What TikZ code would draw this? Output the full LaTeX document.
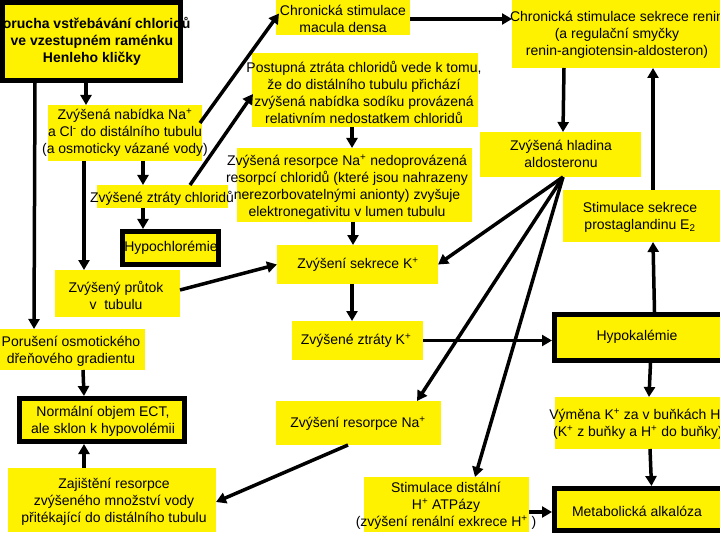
\documentclass[tikz,border=0pt]{standalone}
\usepackage{fontspec}
\setmainfont{Liberation Sans}
\usetikzlibrary{arrows.meta,calc}
\tikzset{
 ybox/.style={fill=yellow, inner sep=0pt, outer sep=0pt},
 kbox/.style={fill=yellow, draw=black, line width=5pt, inner sep=0pt, outer sep=2.5pt},
 txt/.style={align=center, inner sep=0pt, font=\fontsize{14}{17}\selectfont},
 arr/.style={line width=3.5pt, -{Triangle[length=10pt,width=11pt]}},
}
\newcommand{\ybx}[5]{\node[ybox, minimum width={#4-#2}, minimum height={#5-#3}, anchor=north west] (#1) at (#2,#3) {};}
\newcommand{\kbx}[5]{\node[kbox, minimum width={#4-#2-5}, minimum height={#5-#3-5}, anchor=north west] (#1) at (#2,#3) {};}
\newcommand{\sps}{\textsuperscript{+}}
\begin{document}
\begin{tikzpicture}[x=1pt,y=-1pt]
\path[fill=white] (0,0) rectangle (720,540);
\useasboundingbox (0,0) rectangle (720,540);
% boxes
\kbx{b1}{0}{0}{183}{83}
\ybx{b2}{48}{105}{202}{161}
\ybx{b3}{276}{-2}{410}{35}
\ybx{b4}{252}{53}{478}{127}
\ybx{b5}{512}{-2}{722}{68}
\ybx{b6}{480}{132}{641}{177}
\ybx{b7}{563}{190}{722}{242}
\ybx{b8}{237}{148}{472}{222}
\ybx{b9}{97}{185}{228}{208}
\kbx{b10}{120}{229}{221}{267}
\ybx{b11}{55}{270}{180}{317}
\ybx{b12}{277}{245}{438}{284}
\ybx{b13}{-2}{329}{145}{370}
\ybx{b14}{292}{321}{423}{360}
\kbx{b15}{552}{312}{725}{363}
\kbx{b16}{17}{396}{187}{444}
\ybx{b17}{8}{468}{216}{532}
\ybx{b18}{276}{401}{441}{445}
\ybx{b19}{555}{397}{722}{449}
\ybx{b20}{364}{477}{529}{532}
\kbx{b21}{552}{486}{725}{533}
% texts
\node[txt, font=\fontsize{14}{17}\selectfont\bfseries] (t1) at (92,41) {Porucha vstřebávání chloridů\\ve vzestupném raménku\\Henleho kličky};
\node[txt] (t2) at (125,133) {Zvýšená nabídka Na\sps\\a Cl\textsuperscript{-} do distálního tubulu\\(a osmoticky vázané vody)};
\node[txt] (t3) at (343,19) {Chronická stimulace\\macula densa};
\node[txt] (t4) at (364,92) {Postupná ztráta chloridů vede k tomu,\\že do distálního tubulu přichází\\zvýšená nabídka sodíku provázená\\relativním nedostatkem chloridů};
\node[txt] (t5) at (617,35) {Chronická stimulace sekrece renin\\(a regulační smyčky\\renin-angiotensin-aldosteron)};
\node[txt] (t6) at (561,154) {Zvýšená hladina\\aldosteronu};
\node[txt] (t7) at (640,217) {Stimulace sekrece\\prostaglandinu E\textsubscript{2}};
\node[txt] (t8) at (347,187) {Zvýšená resorpce Na\sps{} nedoprovázená\\resorpcí chloridů (které jsou nahrazeny\\nerezorbovatelnými anionty) zvyšuje\\elektronegativitu v lumen tubulu};
\node[txt] (t9) at (162,198) {Zvýšené ztráty chloridů};
\node[txt] (t10) at (171,248) {Hypochlorémie};
\node[txt] (t11) at (116,295) {Zvýšený průtok\\v\ \ tubulu};
\node[txt] (t12) at (358,265) {Zvýšení sekrece K\sps};
\node[txt] (t13) at (71,351) {Porušení osmotického\\dřeňového gradientu};
\node[txt] (t14) at (356,341) {Zvýšené ztráty K\sps};
\node[txt] (t15) at (637,337) {Hypokalémie};
\node[txt] (t16) at (103,421) {Normální objem ECT,\\ale sklon k hypovolémii};
\node[txt] (t17) at (114,502) {Zajištění resorpce\\zvýšeného množství vody\\přitékající do distálního tubulu};
\node[txt] (t18) at (358,424) {Zvýšení resorpce Na\sps};
\node[txt] (t19) at (638,424) {Výměna K\sps{} za v buňkách H\sps\\(K\sps{} z buňky a H\sps{} do buňky)};
\node[txt] (t20) at (446,506) {Stimulace distální\\H\sps{} ATPázy\\(zvýšení renální exkrece H\sps{} )};
\node[txt] (t21) at (637,511) {Metabolická alkalóza};
% connectors
\draw[arr] ([xshift=-5.5pt]b1.south) -- ([xshift=-39pt]b2.north);
\draw[arr] ([xshift=-56.5pt]b1.south) -- ([xshift=-37.5pt]b13.north);
\draw[arr] ([xshift=-41pt]b2.south) -- ([xshift=-33.5pt]b11.north);
\draw[arr] ([xshift=18pt]b2.south) -- ([xshift=-19.5pt]b9.north);
\draw[arr] ([xshift=-19.5pt]b9.south) -- ([xshift=-27.5pt]b10.north);
\draw[arr] ([xshift=-2pt,yshift=10pt]b2.east) -- ([xshift=3pt,yshift=3pt]b3.west);
\draw[arr] ([xshift=27.5pt]b9.north) -- ([xshift=1pt,yshift=-4pt]b4.west);
\draw[arr] ([yshift=-2.5pt]b3.east) -- ([yshift=14pt]b5.west);
\draw[arr] ([xshift=-13pt]b4.south) -- ([xshift=-2.5pt]b8.north);
\draw[arr] ([xshift=-1.5pt]b8.south) -- ([xshift=-4.5pt]b12.north);
\draw[arr] ([xshift=-53pt]b5.south) -- ([xshift=2.5pt]b6.north);
\draw[arr] ([xshift=10.5pt]b7.north) -- ([xshift=36pt]b5.south);
\draw[arr] ([xshift=16pt]b15.north) -- ([xshift=10.5pt]b7.south);
\draw[arr] ([xshift=2.5pt]b6.south) -- (b12.east);
\draw[arr] ([xshift=2.5pt]b6.south) -- ([xshift=58.5pt]b18.north);
\draw[arr] ([xshift=2.5pt]b6.south) -- ([xshift=28.5pt]b20.north);
\draw[arr] ([xshift=-5.5pt]b12.south) -- ([xshift=-5.5pt]b14.north);
\draw[arr] ([yshift=3.5pt]b11.east) -- (b12.west);
\draw[arr] (b14.east) -- (b14.east -| b15.west);
\draw[arr] ([xshift=12pt]b15.south) -- ([xshift=10.5pt]b19.north);
\draw[arr] ([xshift=11.5pt]b19.south) -- ([xshift=13pt]b21.north);
\draw[arr] ([yshift=-7.5pt]b20.east) -- ([yshift=-7.5pt]b20.east -| b21.west);
\draw[arr] ([xshift=-10.5pt]b18.south) -- ([yshift=-2pt]b17.east);
\draw[arr] ([xshift=11.5pt]b13.south) -- ([xshift=-18pt]b16.north);
\draw[arr] ([xshift=-28pt]b17.north) -- ([xshift=-18pt]b16.south);
\end{tikzpicture}
\end{document}
